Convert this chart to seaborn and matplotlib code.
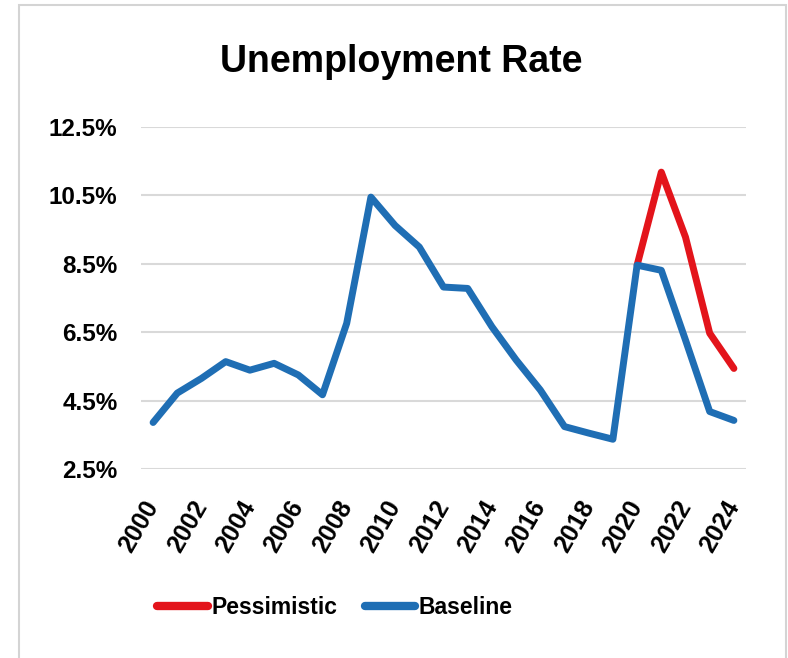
import matplotlib
matplotlib.use("Agg")
import matplotlib.pyplot as plt
import seaborn as sns
import pandas as pd
from matplotlib.patches import Rectangle

years = list(range(2000, 2025))
baseline = [3.86, 4.72, 5.15, 5.64, 5.39, 5.59, 5.25, 4.67, 6.76, 10.45,
            9.62, 8.99, 7.82, 7.78, 6.66, 5.69, 4.81, 3.74, 3.55, 3.37,
            8.46, 8.31, 6.27, 4.18, 3.92]
pess_years = [2020, 2021, 2022, 2023, 2024]
pessimistic = [8.46, 11.18, 9.28, 6.47, 5.44]
y_ticks = [2.5, 4.5, 6.5, 8.5, 10.5, 12.5]
x_ticks = list(range(2000, 2025, 2))

df = pd.concat([
    pd.DataFrame({"Year": pess_years, "Rate": pessimistic, "Scenario": "Pessimistic"}),
    pd.DataFrame({"Year": years, "Rate": baseline, "Scenario": "Baseline"}),
], ignore_index=True)

sns.set_style("white")
plt.rcParams["font.family"] = ["Liberation Sans", "DejaVu Sans"]
plt.rcParams["text.color"] = "black"
plt.rcParams["xtick.color"] = "black"
plt.rcParams["ytick.color"] = "black"

fig = plt.figure(figsize=(7.88, 6.58), dpi=100)
ax = fig.add_axes([141/788, 1-469/658, (746-141)/788, (469-127)/658])

sns.lineplot(data=df, x="Year", y="Rate", hue="Scenario",
             hue_order=["Pessimistic", "Baseline"],
             palette={"Pessimistic": "#E3141B", "Baseline": "#1F6EB4"},
             linewidth=5, ax=ax, legend=True)
for ln in ax.get_lines():
    ln.set_solid_capstyle("round")
    ln.set_solid_joinstyle("round")

ax.set_xlim(1999.5, 2024.5)
ax.set_ylim(2.5, 12.5)
ax.set_yticks(y_ticks)
ax.set_yticklabels([f"{v:.1f}%" for v in y_ticks], fontsize=17.5, fontweight="bold")
ax.set_xticks(x_ticks)
ax.set_xticklabels([str(x) for x in x_ticks], fontsize=18, fontweight="bold",
                   rotation=60, ha="right", va="center", rotation_mode="anchor")
ax.tick_params(axis="x", length=0, pad=24)
ax.tick_params(axis="y", length=0, pad=17)
ax.grid(axis="y", color="#d9d9d9", linewidth=1.5)
ax.set_axisbelow(True)
for s in ax.spines.values():
    s.set_visible(False)
ax.set_xlabel("")
ax.set_ylabel("")

handles, labels = ax.get_legend_handles_labels()
ax.legend_.remove()
leg = fig.legend(handles, labels, loc="center", bbox_to_anchor=(335/788, 1-608/658),
                 ncol=2, frameon=False, handlelength=2.2, handletextpad=0.15,
                 columnspacing=1.2, prop={"weight": "bold", "size": 16.5})
for h in leg.legend_handles:
    h.set_linewidth(6)
    h.set_solid_capstyle("round")

fig.text(401/788, 1-62/658, "Unemployment Rate", ha="center", va="center",
         fontsize=27, fontweight="bold", color="black")

fig.patches.append(Rectangle((19/788, -0.05), (786-19)/788, 1.05 - 5/658,
                             transform=fig.transFigure, fill=False,
                             edgecolor="#d4d4d4", linewidth=1.5))

fig.savefig("out.png", dpi=100)
